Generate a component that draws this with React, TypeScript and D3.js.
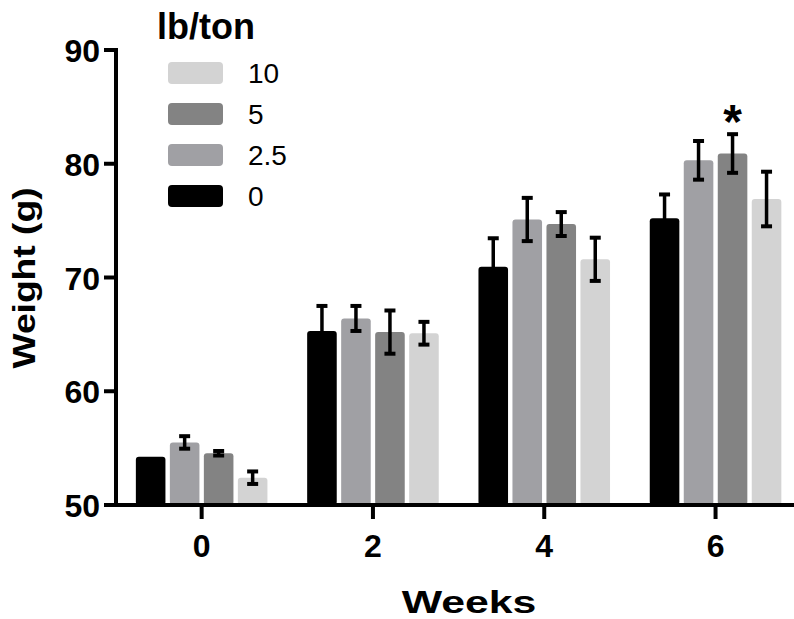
import React, { useRef, useEffect } from "react";
import * as d3 from "d3";

// weeks on the x axis, dose groups (lb/ton) inside each week
const weeks = ["0", "2", "4", "6"];
const doses = ["0", "2.5", "5", "10"];
const doseColors = ["#000000", "#a0a0a4", "#838383", "#d3d3d3"];

// mean weight (g) per dose, one value per week
const mean0 = [54.25, 65.3, 70.95, 75.2];
const mean25 = [55.5, 66.4, 75.1, 80.3];
const mean5 = [54.55, 65.2, 74.7, 80.9];
const mean10 = [52.4, 65.1, 71.6, 76.9];

// error (+/-) per dose, one value per week
const err0 = [0, 2.2, 2.5, 2.1];
const err25 = [0.55, 1.1, 1.9, 1.7];
const err5 = [0.2, 1.9, 1.05, 1.7];
const err10 = [0.55, 1.0, 1.9, 2.4];

const yTicks = [50, 60, 70, 80, 90];
// legend is listed top to bottom
const legendOrder = ["10", "5", "2.5", "0"];
// significance marker: week 6, dose 5
const starWeek = "6";
const starDose = "5";

const App = () => {
  const d3Container = useRef<SVGSVGElement>(null);

  useEffect(() => {
    if (!d3Container.current) return;
    const svg = d3.select(d3Container.current);
    svg.selectAll("*").remove();

    const font = "'Liberation Sans', Arial, sans-serif";
    const left = 116;
    const bottom = 505;

    const means = [mean0, mean25, mean5, mean10];
    const errs = [err0, err25, err5, err10];

    const y = d3.scaleLinear().domain([50, 90]).range([bottom, 50]);
    const x = d3.scaleBand().domain(weeks).range([left, left + 4 * 171.3]);
    const inner = d3
      .scaleBand()
      .domain(doses)
      .range([0, 136])
      .paddingInner(0.13)
      .paddingOuter(0.065);

    const data: { week: string; dose: string; di: number; v: number; e: number }[] = [];
    doses.forEach((dose, di) => {
      weeks.forEach((week, wi) => {
        data.push({ week, dose, di, v: means[di][wi], e: errs[di][wi] });
      });
    });

    // left edge of a bar
    const bx = (d) => x(d.week)! + x.bandwidth() / 2 - 68 + inner(d.dose)!;

    // bars
    svg
      .append("g")
      .selectAll("rect")
      .data(data)
      .join("rect")
      .attr("x", (d) => bx(d))
      .attr("y", (d) => y(d.v))
      .attr("width", inner.bandwidth())
      .attr("height", (d) => bottom - y(d.v))
      .attr("rx", 3)
      .attr("fill", (d) => doseColors[d.di]);

    // error bars
    const eg = svg
      .append("g")
      .selectAll("g")
      .data(data.filter((d) => d.e > 0))
      .join("g")
      .attr("transform", (d) => `translate(${bx(d) + inner.bandwidth() / 2},0)`);
    eg.append("line")
      .attr("y1", (d) => y(d.v + d.e))
      .attr("y2", (d) => y(d.v - d.e))
      .attr("stroke", "#000")
      .attr("stroke-width", 3.5);
    eg.append("line")
      .attr("x1", -5.5)
      .attr("x2", 5.5)
      .attr("y1", (d) => y(d.v + d.e))
      .attr("y2", (d) => y(d.v + d.e))
      .attr("stroke", "#000")
      .attr("stroke-width", 4);
    eg.append("line")
      .attr("x1", -5.5)
      .attr("x2", 5.5)
      .attr("y1", (d) => y(d.v - d.e))
      .attr("y2", (d) => y(d.v - d.e))
      .attr("stroke", "#000")
      .attr("stroke-width", 4);

    // significance star
    const sd = data.find((d) => d.week === starWeek && d.dose === starDose)!;
    svg
      .append("text")
      .attr("x", bx(sd) + inner.bandwidth() / 2)
      .attr("y", y(sd.v + sd.e) + 4)
      .attr("text-anchor", "middle")
      .attr("font-family", font)
      .attr("font-weight", "bold")
      .attr("font-size", 48)
      .text("*");

    // axes
    svg
      .append("line")
      .attr("x1", left)
      .attr("x2", left)
      .attr("y1", y(90) - 2)
      .attr("y2", bottom)
      .attr("stroke", "#000")
      .attr("stroke-width", 4);
    svg
      .append("line")
      .attr("x1", left - 12)
      .attr("x2", 794)
      .attr("y1", bottom)
      .attr("y2", bottom)
      .attr("stroke", "#000")
      .attr("stroke-width", 4);

    const yt = svg.append("g").selectAll("g").data(yTicks).join("g");
    yt.append("line")
      .attr("x1", left - 12)
      .attr("x2", left)
      .attr("y1", (d) => y(d))
      .attr("y2", (d) => y(d))
      .attr("stroke", "#000")
      .attr("stroke-width", 4);
    yt.append("text")
      .attr("x", 100)
      .attr("y", (d) => y(d) + 12)
      .attr("text-anchor", "end")
      .attr("font-family", font)
      .attr("font-weight", "bold")
      .attr("font-size", 32)
      .text((d) => d);

    const xt = svg.append("g").selectAll("g").data(weeks).join("g");
    xt.append("line")
      .attr("x1", (d) => x(d)! + x.bandwidth() / 2)
      .attr("x2", (d) => x(d)! + x.bandwidth() / 2)
      .attr("y1", bottom)
      .attr("y2", bottom + 14)
      .attr("stroke", "#000")
      .attr("stroke-width", 4);
    xt.append("text")
      .attr("x", (d) => x(d)! + x.bandwidth() / 2)
      .attr("y", 557)
      .attr("text-anchor", "middle")
      .attr("font-family", font)
      .attr("font-weight", "bold")
      .attr("font-size", 32)
      .text((d) => d);

    // axis titles (glyphs drawn a bit wide, as in the source)
    svg
      .append("text")
      .attr("transform", "translate(469,613) scale(1.38,1)")
      .attr("text-anchor", "middle")
      .attr("font-family", font)
      .attr("font-weight", "bold")
      .attr("font-size", 31)
      .text("Weeks");
    svg
      .append("text")
      .attr("transform", "translate(35,278) rotate(-90) scale(1.2,1)")
      .attr("text-anchor", "middle")
      .attr("font-family", font)
      .attr("font-weight", "bold")
      .attr("font-size", 31)
      .text("Weight (g)");

    // legend
    svg
      .append("text")
      .attr("x", 157)
      .attr("y", 39)
      .attr("font-family", font)
      .attr("font-weight", "bold")
      .attr("font-size", 36)
      .text("lb/ton");
    const lg = svg
      .append("g")
      .selectAll("g")
      .data(legendOrder)
      .join("g")
      .attr("transform", (d, i) => `translate(168,${62 + i * 41})`);
    lg.append("rect")
      .attr("width", 55)
      .attr("height", 22)
      .attr("rx", 4)
      .attr("fill", (d) => doseColors[doses.indexOf(d)]);
    lg.append("text")
      .attr("x", 80)
      .attr("y", 21)
      .attr("font-family", font)
      .attr("font-size", 28)
      .text((d) => d);
  }, []);

  return (
    <svg
      ref={d3Container}
      width={794}
      height={619}
      style={{ position: "absolute", left: 0, top: 0, background: "#fff" }}
    />
  );
};

export default App;
